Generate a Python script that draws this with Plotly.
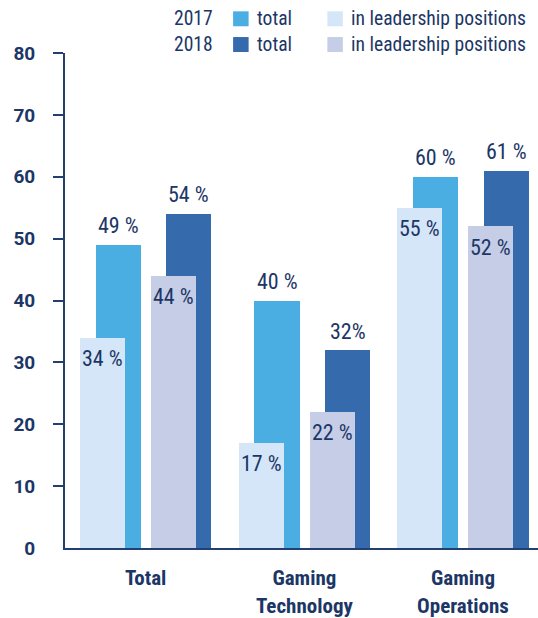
import plotly.graph_objects as go

# --- data -------------------------------------------------------------
categories = ["Total", "Gaming<br>Technology", "Gaming<br>Operations"]
total_2017 = [49, 40, 60]
total_2018 = [54, 32, 61]
leaders_2017 = [34, 17, 55]
leaders_2018 = [44, 22, 52]
labels_total_2017 = ["49 %", "40 %", "60 %"]
labels_total_2018 = ["54 %", "32%", "61 %"]
labels_leaders_2017 = ["34 %", "17 %", "55 %"]
labels_leaders_2018 = ["44 %", "22 %", "52 %"]
y_ticks = [0, 10, 20, 30, 40, 50, 60, 70, 80]

# --- style ------------------------------------------------------------
NAVY = "#1c3666"
AXIS = "#233f70"
C_TOTAL_17 = "#4baee3"
C_TOTAL_18 = "#356bad"
C_LEAD_17 = "#d4e6f7"
C_LEAD_18 = "#c5cee6"
COND = "Roboto Condensed"

W, H = 538, 618
M_L, M_R, M_T, M_B = 65.3, 0, 53.3, 68.3
PLOT_W = W - M_L - M_R
PLOT_H = H - M_T - M_B

BAR_W = 0.285
OFF = {"lead17": -0.272, "tot17": -0.172, "lead18": 0.175, "tot18": 0.272}

idx = list(range(len(categories)))


def px_x(px):
    return (px - M_L) / PLOT_W


def px_y(py):
    return 1 - (py - M_T) / PLOT_H


fig = go.Figure()

# total bars first (behind), leadership bars on top
series = [
    ("tot17", total_2017, C_TOTAL_17, "2017 total"),
    ("tot18", total_2018, C_TOTAL_18, "2018 total"),
    ("lead17", leaders_2017, C_LEAD_17, "2017 in leadership positions"),
    ("lead18", leaders_2018, C_LEAD_18, "2018 in leadership positions"),
]
for key, vals, col, name in series:
    fig.add_trace(go.Bar(
        x=[i + OFF[key] for i in idx], y=vals, width=BAR_W,
        marker=dict(color=col, line=dict(width=0)), name=name,
        showlegend=False, hoverinfo="skip",
    ))

# value labels: totals above the bar, leadership just inside the top
annotations = []
label_sets = [
    ("tot17", total_2017, labels_total_2017, 19),
    ("tot18", total_2018, labels_total_2018, 19),
    ("lead17", leaders_2017, labels_leaders_2017, -21),
    ("lead18", leaders_2018, labels_leaders_2018, -21),
]
for key, vals, texts, shift in label_sets:
    for i, v, t in zip(idx, vals, texts):
        annotations.append(dict(
            x=i + OFF[key], y=v, xref="x", yref="y", text=t, showarrow=False,
            xanchor="center", yanchor="middle", yshift=shift,
            font=dict(family=COND, size=22, color=NAVY),
        ))

# legend block
legend_rows = [
    ("2017", C_TOTAL_17, C_LEAD_17, 19.0),
    ("2018", C_TOTAL_18, C_LEAD_18, 44.8),
]
LEG_FONT = dict(family=COND, size=19.6, color=NAVY)
shapes = []
for year, c_tot, c_lead, cy in legend_rows:
    for x_txt, txt in ((172, year), (255, "total"), (349, "in leadership positions")):
        annotations.append(dict(x=px_x(x_txt), y=px_y(cy), xref="paper", yref="paper",
                                text=txt, showarrow=False, xanchor="left",
                                yanchor="middle", font=LEG_FONT))
    for x0, col in ((233.3, c_tot), (327.5, c_lead)):
        shapes.append(dict(type="rect", xref="paper", yref="paper",
                           x0=px_x(x0), x1=px_x(x0 + 15.5),
                           y0=px_y(cy - 7.5), y1=px_y(cy + 7.5),
                           fillcolor=col, line=dict(width=0), layer="above"))

fig.update_layout(
    width=W, height=H,
    margin=dict(l=M_L, r=M_R, t=M_T, b=M_B, pad=0),
    plot_bgcolor="white", paper_bgcolor="white",
    barmode="overlay", bargap=0,
    showlegend=False,
    annotations=annotations, shapes=shapes,
    xaxis=dict(
        range=[-0.509, 2.473], tickmode="array", tickvals=idx, ticktext=categories,
        showline=True, linecolor=AXIS, linewidth=2, showgrid=False, zeroline=False,
        ticks="", ticklabelstandoff=10,
        tickfont=dict(family=COND, size=21, color=NAVY, weight="bold"),
    ),
    yaxis=dict(
        range=[0, 80], tickmode="array", tickvals=y_ticks,
        showline=True, linecolor=AXIS, linewidth=2, showgrid=False, zeroline=False,
        ticks="", ticklabelstandoff=24,
        minor=dict(tickmode="array", tickvals=y_ticks[1:], ticks="outside",
                   ticklen=10, tickwidth=2, tickcolor=AXIS, showgrid=False),
        tickfont=dict(family="Roboto", size=19, color=NAVY, weight="bold"),
    ),
)

fig.write_html("out.html")
